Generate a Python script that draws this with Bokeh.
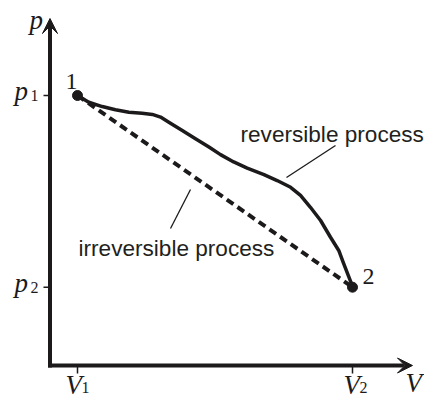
from bokeh.plotting import figure
from bokeh.models import Range1d, Arrow, VeeHead
from bokeh.core.properties import value
from bokeh.embed import file_html
from bokeh.resources import INLINE

# ---- data (schematic p-V diagram) ----
V1, V2 = 1.0, 11.0
p1, p2 = 10.0, 2.9
rev_V = [1.0, 1.41, 1.90, 2.38, 2.87, 3.35, 3.72, 4.02, 4.32, 4.81, 5.29, 5.78,
         6.20, 6.68, 7.17, 7.78, 8.26, 8.75, 9.11, 9.47, 9.84, 10.20, 10.50,
         10.68, 10.87, 10.99, 11.0]
rev_p = [10.0, 9.75, 9.59, 9.47, 9.38, 9.34, 9.30, 9.20, 9.01, 8.70, 8.40, 8.09,
         7.81, 7.54, 7.31, 7.07, 6.85, 6.60, 6.30, 5.86, 5.37, 4.75, 4.26,
         3.77, 3.27, 2.96, 2.9]
irr_V = [V1, V2]
irr_p = [p1, p2]
tick_V = [V1, V2]
tick_p = [p1, p2]
tick_V_sub = ["1", "2"]
tick_p_sub = ["1", "2"]
state_labels = ["1", "2"]

# ---- layout helpers (reference pixel -> data), used for annotation placement only ----
SX, SY, OX, OY = 27.5, 27.0, 49.5, 365.0
TDY = 7  # text baseline correction (px)
def X(px):
    return (px - OX) / SX
def Y(py):
    return (OY - py) / SY
def TY(py):
    return Y(py - TDY)

INK = "#1c1a1b"
MATH = value("Liberation Serif")
SANS = value("Liberation Sans")

p = figure(width=424, height=400, output_backend="svg", toolbar_location=None,
           x_range=Range1d(X(0), X(424)), y_range=Range1d(Y(400), Y(0)),
           min_border=0, outline_line_color=None)
p.axis.visible = False
p.grid.visible = False
p.background_fill_color = "white"
p.border_fill_color = "white"

# axes with arrow heads
p.add_layout(Arrow(x_start=X(47.5), y_start=0, x_end=X(412), y_end=0,
                   line_width=4, line_color=INK,
                   end=VeeHead(size=15, fill_color=INK, line_color=INK, line_width=1)))
p.add_layout(Arrow(x_start=0, y_start=Y(367), x_end=0, y_end=Y(18),
                   line_width=4, line_color=INK,
                   end=VeeHead(size=15, fill_color=INK, line_color=INK, line_width=1)))

# ticks
p.segment(x0=[X(43)] * 2, y0=tick_p, x1=[0] * 2, y1=tick_p, line_width=1.5, line_color=INK)
p.segment(x0=tick_V, y0=[0] * 2, x1=tick_V, y1=[Y(373)] * 2, line_width=1.5, line_color=INK)

# processes
p.line(irr_V, irr_p, line_width=4, line_color=INK, line_dash="8 5")
p.line(rev_V, rev_p, line_width=3.5, line_color=INK, line_join="round", line_cap="round")
p.scatter([V1, V2], [p1, p2], size=10, color=INK)

# leader lines
p.segment(x0=[X(335), X(190)], y0=[Y(145), Y(189)], x1=[X(286), X(170)], y1=[Y(177), Y(228)],
          line_width=1.3, line_color=INK)

# process labels
p.text(x=[X(240), X(78)], y=[TY(141), TY(255)],
       text=["reversible process", "irreversible process"],
       text_font=SANS, text_font_size="22.6px", text_color="#231f20",
       text_baseline="alphabetic", text_align="left")

# math labels: main letters (italic)
p.text(x=[X(29), X(14), X(14), X(65), X(343), X(405)],
       y=[TY(26), TY(97), TY(289), TY(391), TY(391), TY(389)],
       text=["p", "p", "p", "V", "V", "V"],
       text_font=MATH, text_font_style="italic", text_font_size="27px",
       text_color=INK, text_baseline="alphabetic", text_align="left")
# subscripts
p.text(x=[X(30), X(30)], y=[TY(102), TY(294)], text=tick_p_sub,
       text_font=MATH, text_font_size="16px", text_color=INK,
       text_baseline="alphabetic", text_align="left")
p.text(x=[X(81), X(359)], y=[TY(394), TY(394)], text=tick_V_sub,
       text_font=MATH, text_font_size="16px", text_color=INK,
       text_baseline="alphabetic", text_align="left")
# state labels
p.text(x=[X(65), X(362)], y=[TY(88), TY(283)], text=state_labels,
       text_font=MATH, text_font_size="24px", text_color=INK,
       text_baseline="alphabetic", text_align="left")

open("out.html", "w").write(file_html(p, INLINE))
